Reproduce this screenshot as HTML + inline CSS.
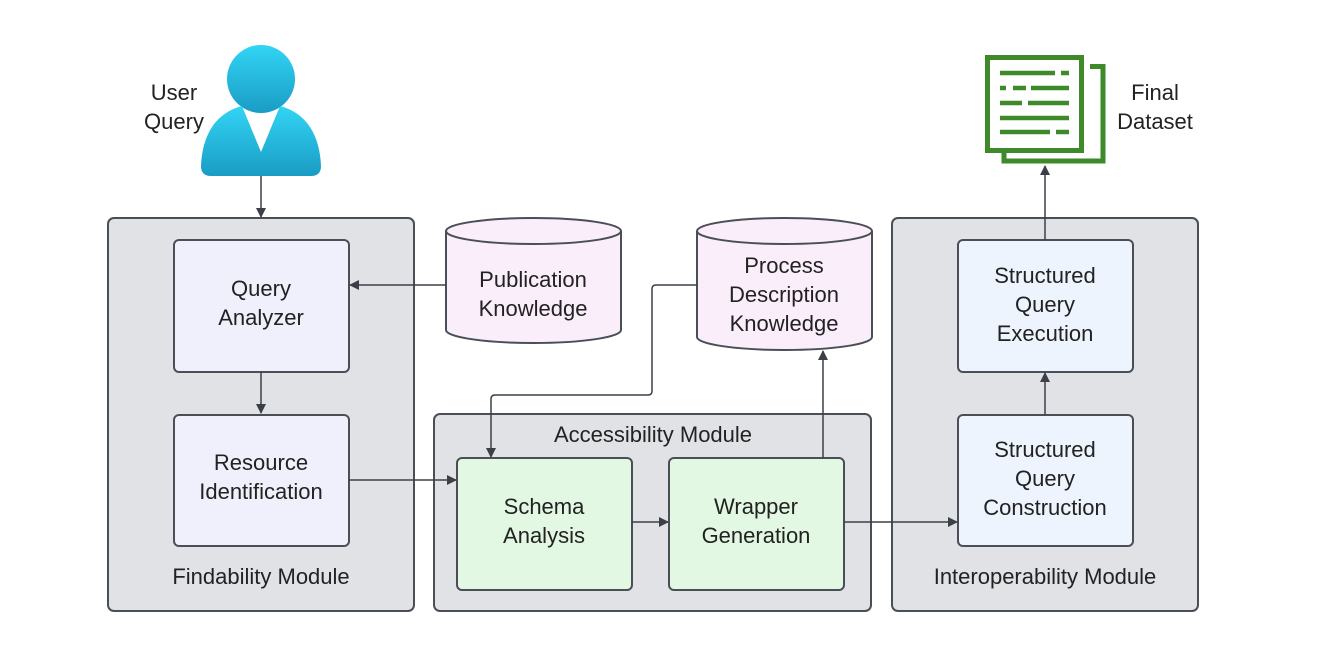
<!DOCTYPE html>
<html><head><meta charset="utf-8"><style>body{margin:0;background:#fff}svg{display:block}text{font-family:"Liberation Sans",sans-serif;font-size:22px;fill:#222;text-anchor:middle}</style></head><body>
<svg width="1329" height="655" viewBox="0 0 1329 655">
<defs>
<marker id="a" markerWidth="10" markerHeight="10" refX="9" refY="5" orient="auto" markerUnits="userSpaceOnUse"><path d="M0,0 L10,5 L0,10z" fill="#3b4048"/></marker>
<linearGradient id="g" x1="0" y1="0" x2="0" y2="1"><stop offset="0" stop-color="#32d4f5"/><stop offset="1" stop-color="#1a9cc4"/></linearGradient>
</defs>
<g fill="#e0e2e6" stroke="#4a4f57" stroke-width="2">
<rect x="108" y="218" width="306" height="393" rx="6"/>
<rect x="434" y="414" width="437" height="197" rx="6"/>
<rect x="892" y="218" width="306" height="393" rx="6"/>
</g>
<g stroke="#4a4f57" stroke-width="2">
<rect x="174" y="240" width="175" height="132" rx="5" fill="#f0f0fc"/>
<rect x="174" y="415" width="175" height="131" rx="5" fill="#f0f0fc"/>
<rect x="457" y="458" width="175" height="132" rx="5" fill="#e2f8e2"/>
<rect x="669" y="458" width="175" height="132" rx="5" fill="#e2f8e2"/>
<rect x="958" y="240" width="175" height="132" rx="5" fill="#eef4fd"/>
<rect x="958" y="415" width="175" height="131" rx="5" fill="#eef4fd"/>
<path d="M446,231 V330 A87.5,13 0 0 0 621,330 V231" fill="#fbeefb"/>
<ellipse cx="533.5" cy="231" rx="87.5" ry="13" fill="#fbeefb"/>
<path d="M697,231 V337 A87.5,13 0 0 0 872,337 V231" fill="#fbeefb"/>
<ellipse cx="784.5" cy="231" rx="87.5" ry="13" fill="#fbeefb"/>
</g>
<g stroke="#3b4048" stroke-width="1.5" fill="none" marker-end="url(#a)">
<path d="M261,176 V217"/>
<path d="M446,285 H350"/>
<path d="M261,372 V413"/>
<path d="M349,480 H456"/>
<path d="M697,285 H656 Q652,285 652,289 V391 Q652,395 648,395 H495 Q491,395 491,399 V457"/>
<path d="M823,458 V351"/>
<path d="M632,522 H668"/>
<path d="M844,522 H957"/>
<path d="M1045,415 V373"/>
<path d="M1045,240 V166"/>
</g>
<!-- user -->
<circle cx="261" cy="79" r="34" fill="url(#g)"/>
<path d="M242,106 L261,152 L280,106 C310,114 320,140 321,166 Q321,176 311,176 H211 Q201,176 201,166 C202,140 212,114 242,106z" fill="url(#g)"/>
<!-- doc -->
<g fill="none" stroke="#3e8a2a" stroke-width="5">
<rect x="987.5" y="57.5" width="94" height="93"/>
<path d="M1090,66.5 H1103 V161 H1004 V153"/>
</g>
<g stroke="#3e8a2a" stroke-width="4.5">
<path d="M1000,73 H1055 M1061,73 H1069 M1000,88 H1006 M1013,88 H1026 M1031,88 H1069 M1000,103 H1022 M1028,103 H1069 M1000,118 H1069 M1000,132 H1050 M1056,132 H1069"/>
</g>
<text x="174" y="100">User</text><text x="174" y="129">Query</text>
<text x="1155" y="100">Final</text><text x="1155" y="129">Dataset</text>
<text x="261" y="296">Query</text><text x="261" y="325">Analyzer</text>
<text x="261" y="470">Resource</text><text x="261" y="499">Identification</text>
<text x="533" y="287">Publication</text><text x="533" y="316">Knowledge</text>
<text x="784" y="273">Process</text><text x="784" y="302">Description</text><text x="784" y="331">Knowledge</text>
<text x="544" y="514">Schema</text><text x="544" y="543">Analysis</text>
<text x="756" y="514">Wrapper</text><text x="756" y="543">Generation</text>
<text x="1045" y="283">Structured</text><text x="1045" y="312">Query</text><text x="1045" y="341">Execution</text>
<text x="1045" y="457">Structured</text><text x="1045" y="486">Query</text><text x="1045" y="515">Construction</text>
<text x="261" y="584">Findability Module</text>
<text x="653" y="442">Accessibility Module</text>
<text x="1045" y="584">Interoperability Module</text>
</svg>
</body></html>
